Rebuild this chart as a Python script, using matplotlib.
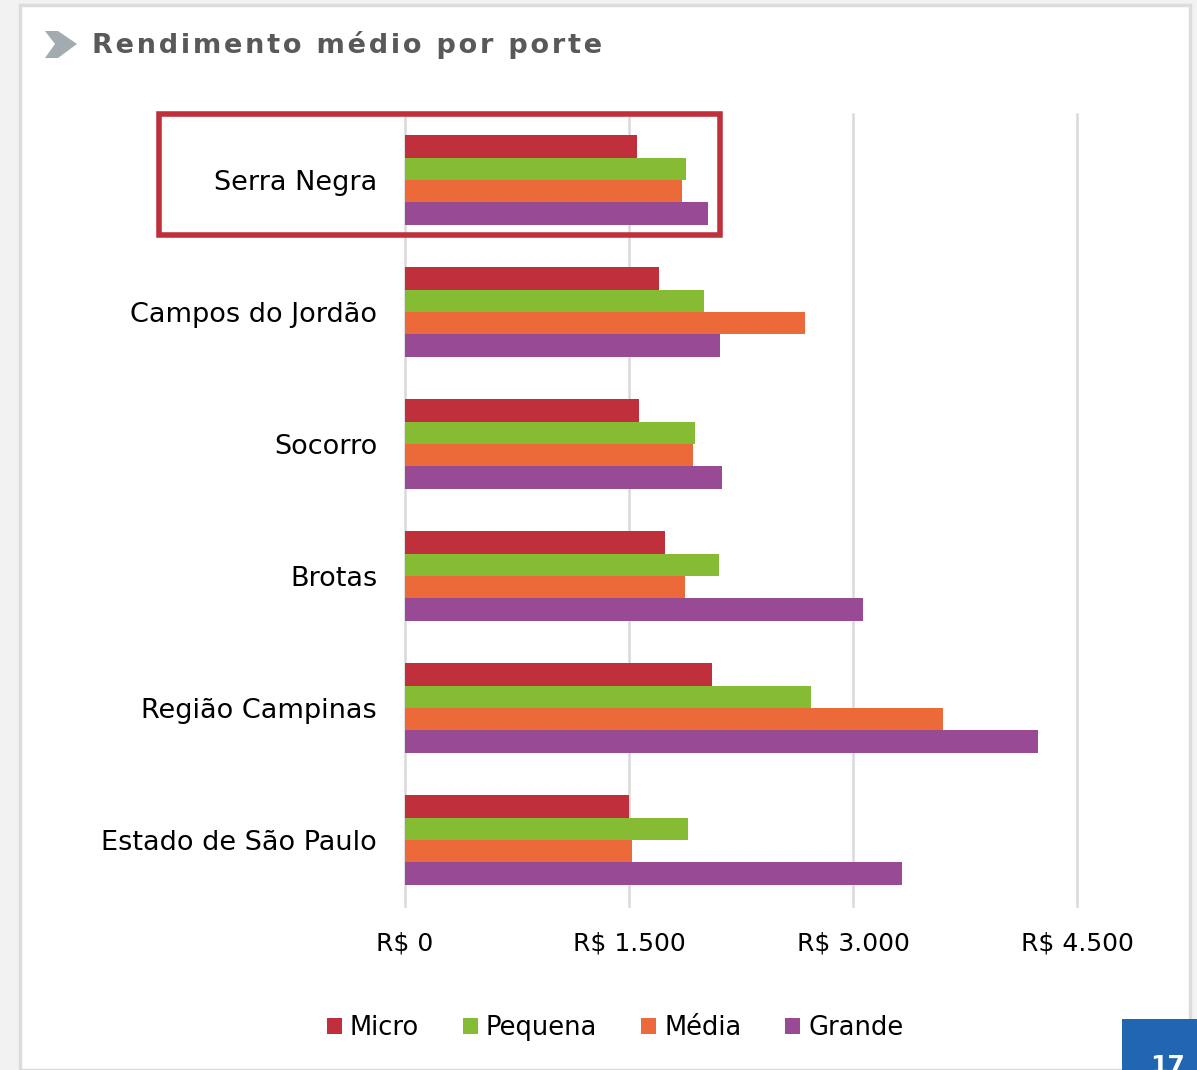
import numpy as np
import matplotlib.pyplot as plt
from matplotlib.patches import Rectangle, Polygon

# Data (R$)
regions = ['Serra Negra', 'Campos do Jordão', 'Socorro', 'Brotas',
           'Região Campinas', 'Estado de São Paulo']
series_names = ['Micro', 'Pequena', 'Média', 'Grande']
micro = [1553, 1701, 1567, 1741, 2056, 1500]
pequena = [1882, 2002, 1942, 2103, 2719, 1895]
media = [1855, 2679, 1929, 1875, 3603, 1520]
grande = [2029, 2109, 2123, 3067, 4239, 3328]
colors = ['#c0303c', '#86bc34', '#ec6a3a', '#994a94']
xticks = [0, 1500, 3000, 4500]
xtick_labels = ['R$ 0', 'R$ 1.500', 'R$ 3.000', 'R$ 4.500']

plt.rcParams['font.family'] = ['DejaVu Sans']

W, H = 1197, 1070
fig = plt.figure(figsize=(W / 100, H / 100), dpi=100)
fig.patch.set_facecolor('#f2f2f2')

# white slide panel
fig.patches.append(Rectangle((20 / W, 0), 1170 / W, 1 - 5 / H, transform=fig.transFigure,
                             facecolor='white', edgecolor='#dcdcdc', lw=2.5, zorder=-5))

ax = fig.add_axes([405 / W, 1 - 906 / H, 672 / W, 792 / H])
ax.set_facecolor('none')

y = np.arange(len(regions))
h = 0.17
for k, vals in enumerate([micro, pequena, media, grande]):
    ax.barh(y + (k - 1.5) * h, vals, height=h, color=colors[k],
            label=series_names[k], zorder=3)

ax.set_xlim(0, 4500)
ax.set_ylim(len(regions) - 0.5, -0.5)
ax.set_xticks(xticks)
ax.set_xticklabels(xtick_labels, fontsize=18)
ax.set_yticks(y)
ax.set_yticklabels(regions, fontsize=19.5)
ax.tick_params(length=0)
ax.tick_params(axis='x', pad=18)
ax.tick_params(axis='y', pad=20)
ax.grid(axis='x', color='#d9d9d9', lw=1.8, zorder=0)
for gl in ax.get_xgridlines():
    gl.set_clip_on(False)
for s in ax.spines.values():
    s.set_visible(False)

# highlight box around Serra Negra
fig.patches.append(Rectangle((159 / W, 1 - 235 / H), 561 / W, 121 / H,
                             transform=fig.transFigure, fill=False,
                             edgecolor='#c0303c', lw=4, zorder=5))

# title with chevron
fig.patches.append(Polygon([(45 / W, 1 - 31 / H), (58 / W, 1 - 31 / H), (77 / W, 1 - 44 / H),
                            (58 / W, 1 - 58 / H), (45 / W, 1 - 58 / H), (55 / W, 1 - 44 / H)],
                           closed=True, transform=fig.transFigure,
                           facecolor='#a2abb0', edgecolor='none'))
title = 'Rendimento médio por porte'
fig.text(92 / W, 1 - 45 / H, '\u200a'.join(title), fontsize=19.5, fontweight='bold',
         color='#595959', va='center', ha='left')

leg = fig.legend(loc='center', bbox_to_anchor=(615 / W, 1 - 1028 / H), ncol=4,
                 frameon=False, fontsize=18.5, handlelength=0.6, handleheight=0.6,
                 handletextpad=0.3, columnspacing=1.7)

# page number box
fig.patches.append(Rectangle((1122 / W, 0), 75 / W, 51 / H, transform=fig.transFigure,
                             facecolor='#2166b0', edgecolor='none', zorder=6))
fig.text(1168 / W, -8 / H, '17', color='white', fontsize=18, fontweight='bold',
         ha='center', va='bottom', zorder=7)

fig.savefig('out.png', dpi=100, facecolor=fig.get_facecolor())
